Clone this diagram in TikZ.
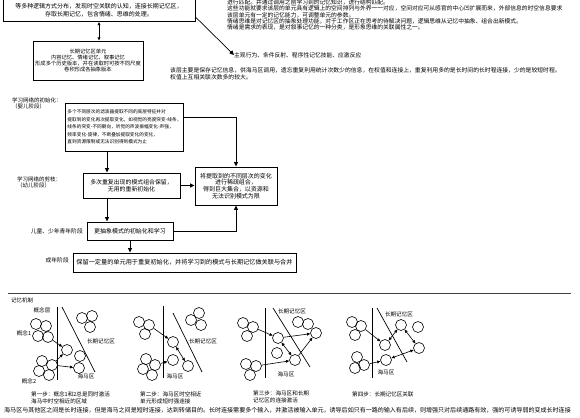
\documentclass[tikz,border=0pt]{standalone}
\usepackage{fontspec}
\setmainfont{Noto Sans CJK SC}
\usetikzlibrary{arrows.meta, positioning}

\tikzset{
  fs/.style 2 args={font=\fontsize{#1}{#2}\selectfont},
  box/.style={draw, line width=0.9bp, inner sep=2bp, align=center},
  note/.style={inner sep=0pt},
  arr/.style={line width=0.9bp, -{Triangle[length=4.5bp,width=4bp]}},
  tarr/.style={line width=0.6bp, -{Triangle[length=3.2bp,width=2.8bp]}},
  darr/.style={line width=0.6bp, {Triangle[length=3.2bp,width=2.8bp]}-{Triangle[length=3.2bp,width=2.8bp]}},
  cell/.style={circle, draw, line width=0.6bp, minimum size=11bp, inner sep=0pt},
  wall/.style={line width=0.7bp},
}

\begin{document}
\begin{tikzpicture}[x=1bp, y=-1bp]
\useasboundingbox (0,0) rectangle (580,417);
\clip (0,0) rectangle (580,417);

% upper part: work area and long-term memory
\node[box, fs={6}{8.5}, minimum width=192bp, anchor=south, inner ysep=4bp] (topbox) at (99,22) {等多种逻辑方式分布，发现时空关联的认知，连接长期记忆区，\\存取长期记忆，包含情绪、思维的处理。};
\node[note, fs={5.8}{6.2}, anchor=north west, align=left] (func) at (227,-0.3) {进行匹配。并通过调用之前学习到的记忆知识，进行结构匹配。\\这些功能就要求该层的单元具有逻辑上的空间排列与外界一一对应，空间对应可从感官的中心凹扩展而来，外部信息的时空信息要求\\该层单元有一定的记忆能力，可调整单元的参数。\\情绪思维是对记忆区的抽象处理功能，对于工作区正在思考的待解决问题，逻辑思维从记忆中抽象、组合出新模式。\\情绪是需求的表现，是对叙事记忆的一种分类，是形象思维的关联属性之一。};
\node[note, fs={5.8}{7}, anchor=west] (act) at (234,55) {主观行为、条件反射、程序性记忆技能、应激反应};
\draw[arr, line width=0.7bp] ([yshift=5bp]topbox.south east) -- (act.west);
\node[box, fs={5.3}{6.1}, minimum width=110bp, minimum height=39bp] (ltm) at (88,60.5) {长期记忆区单元\\内容记忆、情绪记忆、叙事记忆\\形成多个历史版本，并在读取时可按不同尺度\\卷积形成各抽象版本};
\draw[darr, line width=0.9bp] (topbox.south) -- (topbox.south |- ltm.north);
\node[note, fs={5.85}{7}, anchor=north west, align=left] (layer) at (170,67) {该层主要是保存记忆信息，供海马区调用，遗忘重复利用统计次数少的信息，在权值和连接上，重复利用多的是长时间的长时程连接，少的是较短时程。\\权值上互相关联次数多的较大。};

% learning stages
\node[note, fs={5.5}{6.3}, anchor=north west, align=left] (stage1) at (12,97.5) {学习网络的初始化：\\（婴儿阶段）};
\node[box, fs={4.7}{7.6}, align=left, minimum width=113bp, minimum height=48bp] (init) at (124.5,127) {多个不同层次的滤波器提取不同的底层特征并对\\提取到的变化再次提取变化，如视觉的亮度突变-线条，\\线条的突变-不同朝向，听觉的声波振幅变化-声强，\\频率变化-旋律，不断叠加提取变化的变化，\\直到资源限制或无法识别得到模式为止};
\node[box, fs={5.9}{6.6}, minimum width=97bp, minimum height=25bp] (prune) at (131.5,185.5) {多次重复出现的模式组合保留，\\无用的重新初始化};
\node[box, fs={6}{6.7}, minimum width=82bp, minimum height=38bp] (sparse) at (236,186) {将提取到的不同层次的变化\\进行稀疏组合，\\得到巨大集合，以资源和\\无法识别模式为限};
\node[note, fs={5.5}{6.3}, anchor=north west, align=left] (stage2) at (17,176.5) {学习网络的剪枝：\\（幼儿阶段）};
\node[box, fs={6}{7}, minimum width=86bp, minimum height=18bp] (abstr) at (130,231) {更抽象模式的初始化和学习};
\node[note, fs={5.8}{7}, anchor=east] (stage3) at (83,231) {儿童、少年青年阶段};
\node[box, fs={6.2}{7}, minimum width=223bp, minimum height=19bp] (adult) at (184.5,262.5) {保留一定量的单元用于重复初始化，并将学习到的模式与长期记忆做关联与合并};
\node[note, fs={5.8}{7}, anchor=east] (stage4) at (69,260.5) {成年阶段};

\coordinate (drop) at (107,0);
\draw[arr] (init.south -| drop) -- (prune.north -| drop);
\draw[arr] ([yshift=10bp]init.east) -| (sparse.north);
\draw[arr] (prune.east) -- (prune.east -| sparse.west);
\draw[arr] (prune.south -| drop) -- (abstr.north -| drop);
\draw[arr] (abstr.east) -| (sparse.south);
\draw[arr] (abstr.south) -- (abstr.south |- adult.north);

\draw[line width=1.6bp, black!75] (8,293.5) -- (571,293.5);
\node[note, fs={5.5}{6}, anchor=west] (mech) at (11,300) {记忆机制};

% step 1
\draw[wall] (57,307) -- (57,380);
\draw[wall] (62,307) -- (95,372);
\node[note, fs={5.6}{6}] at (42,310) {概念层};
\node[note, fs={5.6}{6}] at (24,333) {概念1};
\node[note, fs={5.6}{6}] at (29,381) {概念2};
\node[note, fs={5.6}{6}] at (101,341) {长期记忆区};
\node[note, fs={5.6}{6}] at (86,376) {海马区};
\node[cell] (pa1) at (36,324) {};
\node[cell] (pa2) at (46,326) {};
\node[cell] (pa3) at (38,336) {};
\node[cell] (pa4) at (48,337) {};
\node[cell] (pb1) at (82,318) {};
\node[cell] (pb2) at (92,316) {};
\node[cell] (pb3) at (90,327) {};
\node[cell] (ph1) at (67,350) {};
\node[cell] (ph2) at (80,356) {};
\node[cell] (ph3) at (79,368) {};
\node[cell] (pc1) at (42,361) {};
\node[cell] (pc2) at (52,365) {};
\node[cell] (pc3) at (39,371) {};
\node[cell] (pc4) at (49,375) {};
\draw[tarr] (pa4) -- (ph1);
\draw[tarr] (pc2) -- (ph1);
\draw[tarr] (pc2) -- (ph3);

% step 2
\draw[wall] (163,306) -- (163,378);
\draw[wall] (173,313) -- (202,372);
\node[note, fs={5.6}{6}] at (203,341) {长期记忆区};
\node[note, fs={5.6}{6}] at (175,376) {海马区};
\node[cell] (qa1) at (139,322) {};
\node[cell] (qa2) at (149,325) {};
\node[cell] (qa3) at (145,334) {};
\node[cell] (qb1) at (191,320) {};
\node[cell] (qb2) at (199,313) {};
\node[cell] (qb3) at (201,325) {};
\node[cell] (qh1) at (173,342) {};
\node[cell] (qh2) at (173,360) {};
\node[cell] (qh3) at (188,366) {};
\node[cell] (qc1) at (146,359) {};
\node[cell] (qc2) at (155,365) {};
\node[cell] (qc3) at (143,369) {};
\node[cell] (qc4) at (152,375) {};
\draw[tarr] (qa2) -- (qh1);
\draw[tarr] (qc2) -- (qh2);
\draw[darr] (qh1) -- (qh3);

% step 3
\draw[wall] (265,308) -- (265,378);
\draw[wall] (273,308) -- (310,367);
\node[note, fs={5.6}{6}] at (292,311) {长期记忆区};
\node[note, fs={5.6}{6}] at (286,374) {海马区};
\node[cell] (ra1) at (243,323) {};
\node[cell] (ra2) at (253,327) {};
\node[cell] (ra3) at (247,336) {};
\node[cell] (rc1) at (246,364) {};
\node[cell] (rc2) at (256,366) {};
\node[cell] (rc3) at (250,375) {};
\node[cell] (rh1) at (278,338) {};
\node[cell] (rh2) at (277,353) {};
\node[cell] (rh3) at (295,360) {};
\node[cell] (rb1) at (298,322) {};
\node[cell] (rb2) at (308,324) {};
\node[cell] (rb3) at (316,333) {};
\draw[tarr] (ra2) -- (rh1);
\draw[tarr] (rh1) -- (rb3);
\draw[darr] (rh1) -- (rh3);
\draw[tarr] (rc2) -- (rh3);
\draw[tarr] (rh3) -- (rb3);

% step 4
\draw[wall] (372,308) -- (372,378);
\draw[wall] (377,308) -- (407,362);
\node[note, fs={5.6}{6}] at (399,314) {长期记忆区};
\node[note, fs={5.6}{6}] at (386,372) {海马区};
\node[cell] (sa1) at (352,322) {};
\node[cell] (sa2) at (361,326) {};
\node[cell] (sa3) at (355,335) {};
\node[cell] (sc1) at (357,357) {};
\node[cell] (sc2) at (364,365) {};
\node[cell] (sc3) at (355,368) {};
\node[cell] (sh1) at (385,345) {};
\node[cell] (sh2) at (386,360) {};
\node[cell] (sb1) at (401,325) {};
\node[cell] (sb2) at (418,327) {};
\node[cell] (sb3) at (419,348) {};
\draw[tarr] (sa2) -- (sh1);
\draw[tarr] (sc2) -- (sh2);
\draw[darr] (sh1) -- (sb1);
\draw[darr] (sb1) -- (sb3);
\draw[darr] (sh2) -- (sb3);

% captions
\node[note, fs={5.6}{6.8}, anchor=north west, align=left] (cap1) at (31,392) {第一步：概念1和2总是同时激活\\海马中时空相近的区域};
\node[note, fs={5.6}{6.8}, anchor=north west, align=left] (cap2) at (140,392) {第二步：海马区时空相近\\单元形成短时强连接};
\node[note, fs={5.6}{6.8}, anchor=north west, align=left] (cap3) at (253,391) {第三步：海马区和长期\\记忆区的连接激活};
\node[note, fs={5.6}{6.8}, anchor=north west, align=left] (cap4) at (352,392) {第四步：长期记忆区关联};
\node[note, fs={6.05}{7}, anchor=west] (summary) at (4,410) {海马区与其他区之间是长时连接，但是海马之间是短时连接，达到转储目的。长时连接需要多个输入，并激活被输入单元，诱导后如只有一路的输入有后续，则增强只对后续通路有效，强的可诱导弱的变成长时连接};
\end{tikzpicture}
\end{document}
